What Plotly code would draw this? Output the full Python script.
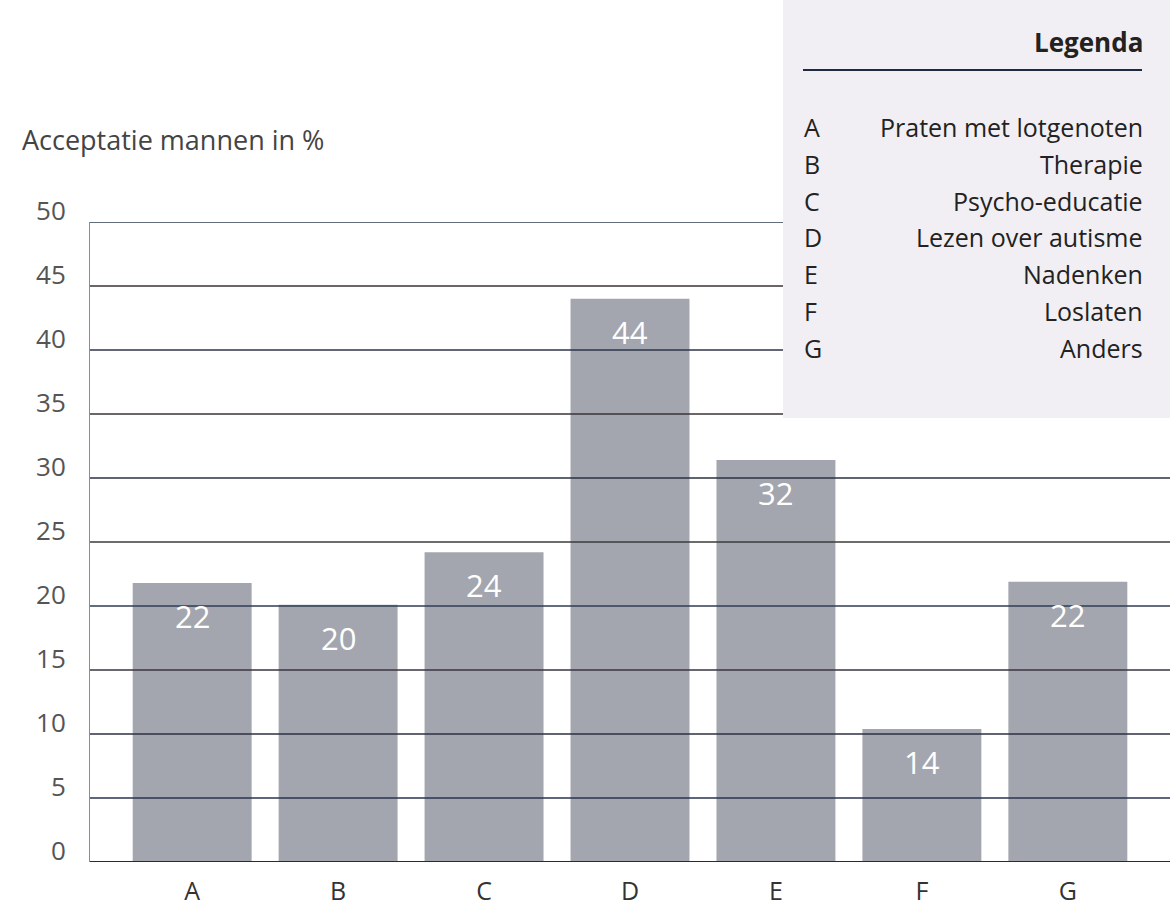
import plotly.graph_objects as go

categories = ["A", "B", "C", "D", "E", "F", "G"]
bar_heights = [21.8, 20.1, 24.2, 44.0, 31.4, 10.4, 21.9]
bar_labels = ["22", "20", "24", "44", "32", "14", "22"]
y_ticks = [0, 5, 10, 15, 20, 25, 30, 35, 40, 45, 50]
legend_letters = ["A", "B", "C", "D", "E", "F", "G"]
legend_texts = ["Praten met lotgenoten", "Therapie", "Psycho-educatie",
                "Lezen over autisme", "Nadenken", "Loslaten", "Anders"]

FONT = "Open Sans"
W, H = 1170, 909
L, R, T, B = 90, 0, 222, 47
PW, PH = W - L - R, H - T - B


def xp(px):
    return (px - L) / PW


def yp(py):
    return (H - B - py) / PH


fig = go.Figure()
fig.add_trace(go.Bar(
    x=categories, y=bar_heights,
    marker=dict(color="#a3a6ae", line=dict(width=0)),
    hoverinfo="skip",
))

shapes = []
grid_colors = ["#1f2a4a", "#2a3350", "#2c3140", "#3a3440", "#2f3d55", "#3a3c3a",
               "#2a3040", "#3a3338", "#2c3548", "#3b3236", "#2f3b50"]
for i, t in enumerate(y_ticks):
    shapes.append(dict(type="line", xref="paper", yref="y", x0=0, x1=1, y0=t, y1=t,
                       line=dict(color=grid_colors[i % len(grid_colors)],
                                 width=2 if t == 0 else 1.3),
                       layer="above"))
# legend box
shapes.append(dict(type="rect", xref="paper", yref="paper",
                   x0=xp(783), x1=1.0, y0=yp(418), y1=yp(0),
                   fillcolor="#f1eff3", line=dict(width=0), layer="above"))
shapes.append(dict(type="line", xref="paper", yref="paper",
                   x0=xp(803), x1=xp(1142), y0=yp(70), y1=yp(70),
                   line=dict(color="#1e2a40", width=2), layer="above"))

annotations = []
for c, h, lab in zip(categories, bar_heights, bar_labels):
    annotations.append(dict(x=c, y=h, xref="x", yref="y", text=lab, showarrow=False,
                            yanchor="middle", yshift=-33,
                            font=dict(family=FONT, size=31, color="white")))
annotations.append(dict(x=0, y=1, xref="paper", yref="paper", xanchor="left",
                        yanchor="middle", xshift=-L + 20, yshift=83,
                        text="Acceptatie mannen in %", showarrow=False,
                        font=dict(family=FONT, size=27, color="#444444")))
annotations.append(dict(x=xp(1145), y=yp(42), xref="paper", yref="paper",
                        xanchor="right", yanchor="middle", text="<b>Legenda</b>",
                        showarrow=False, font=dict(family=FONT, size=26, color="#222222")))
for i, (lt, tx) in enumerate(zip(legend_letters, legend_texts)):
    py = 127 + i * 36.8
    annotations.append(dict(x=xp(802), y=yp(py), xref="paper", yref="paper",
                            xanchor="left", yanchor="middle", text=lt, showarrow=False,
                            font=dict(family=FONT, size=25, color="#222222")))
    annotations.append(dict(x=xp(1145), y=yp(py), xref="paper", yref="paper",
                            xanchor="right", yanchor="middle", text=tx, showarrow=False,
                            font=dict(family=FONT, size=25, color="#222222")))

fig.update_layout(
    width=W, height=H,
    margin=dict(l=L, r=R, t=T, b=B, pad=0, autoexpand=False),
    paper_bgcolor="white", plot_bgcolor="white",
    bargap=0.185,
    showlegend=False,
    shapes=shapes,
    annotations=annotations,
    xaxis=dict(range=[-0.7, 6.7], showgrid=False, zeroline=False, showline=False,
               ticks="", ticklabelstandoff=12, automargin=False,
               tickfont=dict(family=FONT, size=25, color="#333333")),
    yaxis=dict(range=[0, 50], tickvals=y_ticks, showgrid=False, zeroline=False,
               showline=True, linecolor="#8a8d95", linewidth=1, ticks="",
               ticklabelstandoff=18, ticklabelshift=-11, automargin=False,
               tickfont=dict(family=FONT, size=26, color="#555555")),
)

fig.write_html("out.html")
